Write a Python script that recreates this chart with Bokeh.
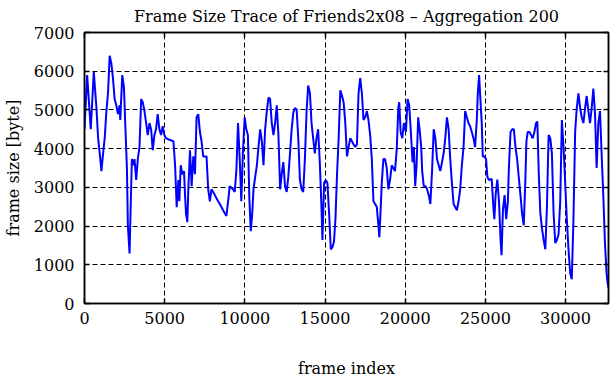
from bokeh.plotting import figure
from bokeh.models import Range1d, LinearAxis, FixedTicker
from bokeh.embed import file_html
from bokeh.resources import INLINE

frame_index = [
    0, 165, 390, 580, 745, 850, 950, 1055, 1160, 1260, 1365, 1465, 1570, 1675, 1775, 1880, 1985, 2085, 2190, 2230,
    2355, 2460, 2540, 2645, 2705, 2810, 2870, 2955, 3060, 3120, 3225, 3325, 3430, 3535, 3635, 3740, 3845, 3945, 4050, 4155,
    4255, 4360, 4460, 4565, 4670, 4775, 4875, 4980, 5085, 5290,
    5546, 5650, 5750, 5856, 5918, 6000, 6104, 6207, 6270, 6330, 6414, 6475, 6580, 6682, 6785, 6890, 6990, 7095, 7200, 7300,
    7405, 7510, 7610, 7715, 7820, 7920, 8025, 8130, 8230, 8335, 8440, 8540, 8645, 8750, 8850, 8955, 9058, 9160, 9265, 9368,
    9470, 9575, 9680, 9780, 9885, 9990, 10090, 10190, 10280, 10370, 10460,
    10540, 10645, 10750, 10850, 10956, 11060, 11163, 11265, 11370, 11475, 11575, 11680, 11785, 11885, 11990, 12095, 12200, 12300, 12400, 12506,
    12610, 12710, 12816, 12920, 13023, 13125, 13230, 13333, 13435, 13540, 13640, 13745, 13850, 13950, 14060, 14160, 14260, 14365, 14470, 14570,
    14675, 14780, 14840, 14945, 15050, 15150, 15255, 15360, 15460, 15560,
    15650, 15750, 15850, 15955, 16060, 16160, 16265, 16370, 16470, 16575, 16680, 16780, 16885, 16990, 17090, 17195, 17300, 17400, 17505, 17610,
    17710, 17815, 17920, 18020, 18125, 18230, 18330, 18390, 18475, 18540, 18640, 18745, 18850, 18950, 19055, 19160, 19260, 19365, 19470, 19570,
    19630, 19715, 19820, 19920, 20046, 20150, 20250, 20355, 20460, 20540, 20625, 20710, 20810,
    20900, 21000, 21060, 21160, 21265, 21365, 21469, 21570, 21675, 21780, 21880, 21985, 22090, 22190, 22295, 22400, 22500, 22605, 22710, 22810,
    22915, 23020, 23120, 23225, 23330, 23430, 23535, 23640, 23740, 23845, 23950, 24050, 24155, 24260, 24360, 24465, 24530, 24610, 24670, 24775,
    24840, 24940, 25045, 25125, 25230, 25395, 25500, 25560, 25640,
    25745, 25850, 25950, 26010, 26095, 26200, 26300, 26405, 26467, 26570, 26675, 26777, 26880, 26983, 27085, 27190, 27290, 27396, 27500, 27560,
    27643, 27750, 27850, 27950, 28057, 28160, 28243, 28325, 28430, 28530, 28636, 28740, 28840, 28945, 29050, 29150, 29255, 29360, 29460, 29565,
    29670, 29772, 29875, 29980, 30080, 30185, 30290, 30390, 30495, 30600, 30700, 30805, 30910, 31010, 31115, 31220, 31320, 31425, 31530, 31630,
    31735, 31840, 31940, 32045, 32150, 32250, 32355, 32460, 32560, 32620, 32680,
]

frame_size = [
    4500, 5900, 4500, 5980, 5050, 4270, 3880, 3420, 3880, 4270, 4970, 5430, 6400, 6200, 5820, 5280, 5120, 4890, 5120, 4740,
    5900, 5590, 4660, 3500, 2020, 1290, 2330, 3730, 3570, 3730, 3190, 3730, 4040, 5280, 5200, 4970, 4660, 4350, 4660, 4500,
    3960, 4350, 4500, 4890, 4500, 4350, 4580, 4350, 4270, 4230,
    4190, 3570, 2490, 3190, 2640, 3570, 3340, 3420, 2800, 2330, 2100, 2950, 3960, 3030, 3800, 3340, 4810, 4890, 4430, 4190,
    3800, 3800, 3800, 2950, 2640, 2950, 2880, 2800, 2720, 2640, 2570, 2490, 2410, 2330, 2260, 2640, 3030, 2990, 2950, 2880,
    3420, 4660, 3730, 2640, 3960, 4810, 4500, 4350, 2720, 1870, 2330,
    2950, 3270, 3570, 4040, 4500, 4190, 3570, 4500, 4970, 5320, 5280, 4660, 4350, 4660, 5120, 4350, 2950, 3340, 3650, 3030,
    2880, 3270, 3880, 4500, 4930, 5050, 5010, 4270, 3190, 2950, 2880, 3730, 4970, 5630, 5430, 4660, 4270, 3880, 4270, 4500,
    3650, 2490, 1640, 3110, 3190, 3110, 2330, 1400, 1450, 1600,
    2180, 3340, 4270, 5510, 5360, 5200, 4660, 3800, 4040, 4270, 4190, 4110, 4040, 4110, 5430, 5820, 5430, 4740, 4810, 4970,
    4740, 4350, 3730, 2640, 2570, 2490, 2020, 1710, 2490, 3110, 3730, 3730, 3500, 2950, 3190, 3570, 3500, 3420, 3960, 5050,
    5200, 4430, 4270, 4660, 4430, 5280, 5120, 4430, 3650, 4040, 3030, 3570, 4810,
    4500, 4040, 3420, 3030, 3030, 2950, 2800, 2570, 3420, 4500, 4270, 3730, 3570, 3420, 3650, 3880, 4270, 4810, 4500, 3730,
    3110, 2570, 2490, 2410, 2640, 2950, 3570, 4040, 4970, 4810, 4660, 4580, 4430, 4270, 4040, 4740, 5430, 5900, 5430, 4660,
    3800, 3800, 3730, 3270, 3190, 3220, 2490, 2180, 2800,
    3200, 2640, 1640, 1250, 2410, 2800, 2180, 2640, 3500, 4430, 4500, 4500, 4040, 3730, 3260, 2800, 2330, 2020, 3260, 4190,
    4430, 4430, 4350, 4270, 4430, 4660, 4700, 3420, 2330, 1940, 1640, 1400, 2490, 4350, 4270, 3880, 2330, 1560, 1640, 1790,
    2640, 4740, 4040, 3110, 2180, 1400, 780, 630, 2180, 4430, 5050, 5430, 5050, 4810, 4660, 5050, 5360, 4970, 4660, 5050,
    5550, 4890, 3500, 4660, 4970, 3880, 2800, 1560, 780, 550, 400,
]

x_ticks = [0, 5000, 10000, 15000, 20000, 25000, 30000]
y_ticks = [0, 1000, 2000, 3000, 4000, 5000, 6000, 7000]

FONT = "DejaVu Serif"
FSIZE = "16px"

p = figure(width=611, height=380, output_backend="svg", toolbar_location=None,
           x_range=Range1d(0, frame_index[-1]), y_range=Range1d(0, 7000),
           min_border_left=80, min_border_right=3, min_border_top=32, min_border_bottom=77,
           title="Frame Size Trace of Friends2x08 \u2013 Aggregation 200")

p.title.text_font = FONT
p.title.text_font_size = FSIZE
p.title.text_font_style = "normal"
p.title.text_color = "black"
p.title.align = "center"
p.title.vertical_align = "top"
p.title.standoff = 10

p.line(frame_index, frame_size, line_color="#0000ff", line_width=2)

p.outline_line_color = "black"
p.outline_line_width = 1.5

def style_axis(ax, ticks, show_labels=True, standoff=10):
    ax.ticker = FixedTicker(ticks=ticks)
    ax.major_tick_in = 5
    ax.major_tick_out = 0
    ax.minor_tick_line_color = None
    ax.major_tick_line_color = "black"
    ax.major_tick_line_width = 1.5
    ax.axis_line_color = "black"
    ax.axis_line_width = 1.5
    ax.major_label_text_font = FONT
    if show_labels:
        ax.major_label_text_color = "black"
        ax.major_label_text_font_size = FSIZE
        ax.major_label_standoff = standoff
    else:
        ax.major_label_text_color = None
        ax.major_label_text_font_size = "1px"
        ax.major_label_standoff = 0

style_axis(p.xaxis[0], x_ticks, standoff=8)
style_axis(p.yaxis[0], y_ticks, standoff=10)
p.xaxis[0].axis_label = "frame index"
p.yaxis[0].axis_label = "frame size [byte]"
for ax in (p.xaxis[0], p.yaxis[0]):
    ax.axis_label_text_font = FONT
    ax.axis_label_text_font_size = FSIZE
    ax.axis_label_text_font_style = "normal"
    ax.axis_label_text_color = "black"
p.xaxis[0].axis_label_standoff = 32
p.yaxis[0].axis_label_standoff = 8

top_ax = LinearAxis()
style_axis(top_ax, x_ticks, show_labels=False)
p.add_layout(top_ax, "above")
right_ax = LinearAxis()
style_axis(right_ax, y_ticks, show_labels=False)
p.add_layout(right_ax, "right")

p.xgrid.ticker = FixedTicker(ticks=x_ticks)
p.ygrid.ticker = FixedTicker(ticks=y_ticks)
for g in (p.xgrid[0], p.ygrid[0]):
    g.grid_line_color = "black"
    g.grid_line_dash = "5 3"
    g.grid_line_width = 1

open("out.html", "w").write(file_html(p, INLINE))
